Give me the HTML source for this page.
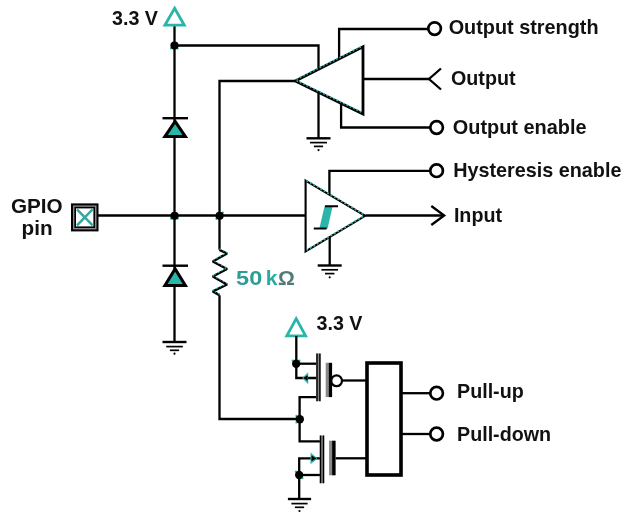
<!DOCTYPE html>
<html><head><meta charset="utf-8"><style>
html,body{margin:0;padding:0;background:#fff;}
svg{display:block;}
#w{will-change:transform;width:640px;height:516px;}
text{font-family:"Liberation Sans",sans-serif;font-weight:bold;font-size:19.7px;fill:#111;}
</style></head><body><div id="w">
<svg width="640" height="516" viewBox="0 0 640 516">
<rect width="640" height="516" fill="#fff"/>
<g fill="none" stroke="#000" stroke-width="2.3" stroke-linecap="butt" stroke-linejoin="miter">
  <!-- left vertical rail through diodes -->
  <path d="M174.5 26 V342"/>
  <!-- 3.3V top horizontal to output buffer ground -->
  <path d="M174.5 45.5 H318.5 V138"/>
  <!-- x=219.5 vertical from output buffer input to resistor -->
  <path d="M295 81 H219.5 V249.8"/>
  <path d="M219.5 295.2 V419 H300"/>
  <!-- main horizontal -->
  <path d="M98 215.5 H305.5"/>
  <!-- output strength -->
  <path d="M339.1 60 V29 H429"/>
  <!-- output enable -->
  <path d="M341.1 100 V127.5 H431"/>
  <!-- output -->
  <path d="M363 79 H429"/>
  <path d="M441 68.5 L429 79 L441 89.5"/>
  <!-- hysteresis enable -->
  <path d="M329.4 200 V170.8 H431"/>
  <!-- input -->
  <path d="M365.5 215.5 H444"/>
  <path d="M431.3 206 L444.2 215.5 L431.3 225"/>
  <!-- input triangle ground -->
  <path d="M329.7 235 V265.5"/>
</g>
<!-- grounds -->
<g stroke="#000" fill="none">
  <g id="gnd1" transform="translate(174.5,342)">
    <path d="M-12 0 H12" stroke-width="2.4"/>
    <path d="M-8.3 4.6 H8.3" stroke-width="1.7"/>
    <path d="M-4.6 8.3 H4.6" stroke-width="1.7"/>
    <circle cx="0" cy="11.7" r="1.1" fill="#000" stroke="none"/>
  </g>
  <g transform="translate(318.5,138.3)">
    <path d="M-12 0 H12" stroke-width="2.4"/>
    <path d="M-8.5 4.3 H8.5" stroke-width="1.7"/>
    <path d="M-4.6 8.1 H4.6" stroke-width="1.7"/>
    <circle cx="0" cy="11.8" r="1.1" fill="#000" stroke="none"/>
  </g>
  <g transform="translate(329.7,265.5)">
    <path d="M-12 0 H12" stroke-width="2.4"/>
    <path d="M-8.3 4.3 H8.3" stroke-width="1.7"/>
    <path d="M-4.7 8.1 H4.7" stroke-width="1.7"/>
    <circle cx="0" cy="11.8" r="1.1" fill="#000" stroke="none"/>
  </g>
  <g transform="translate(299.5,499)">
    <path d="M-11.6 0 H11.6" stroke-width="2.4"/>
    <path d="M-8.1 4.6 H8.1" stroke-width="1.7"/>
    <path d="M-4.6 8.3 H4.6" stroke-width="1.7"/>
    <circle cx="0" cy="12" r="1.1" fill="#000" stroke="none"/>
  </g>
</g>
<!-- output buffer triangle -->
<path d="M295.3 81 L363 46.8 L363 114 Z" fill="#fff" stroke="#000" stroke-width="2.8" stroke-linejoin="miter"/>
<path d="M296.5 80.4 L361.8 47.5 M296.5 81.6 L361.8 113.4" fill="none" stroke="#2ab5ab" stroke-width="1.5" stroke-dasharray="1.8 1.9" transform="translate(0,-1)"/>
<!-- input triangle -->
<path d="M305.6 180.6 L365.2 215.8 L305.6 251.4 Z" fill="#fff" stroke="#000" stroke-width="2.1"/>
<path d="M306.5 181.1 L364.3 215.3 M306.5 250.9 L364.3 216.3" fill="none" stroke="#2ab5ab" stroke-width="1.6" stroke-dasharray="1.9 2.1" transform="translate(0,-0.6)"/>
<!-- hysteresis symbol -->
<path d="M324.5 206.3 L332.6 206.3 L327.6 228.4 L319.4 228.4 Z" fill="#2ab5ab"/>
<path d="M325 206.3 H338 M313.8 228.5 H326.6" stroke="#000" stroke-width="2" fill="none"/>
<!-- terminals (circles) -->
<g fill="#fff" stroke="#000" stroke-width="2.7">
  <circle cx="434.6" cy="28.6" r="6.3"/>
  <circle cx="436.6" cy="127.5" r="6.3"/>
  <circle cx="436.6" cy="170.7" r="6.3"/>
  <circle cx="436.6" cy="393.2" r="6.3"/>
  <circle cx="436.6" cy="434" r="6.3"/>
</g>
<!-- diodes -->
<g>
  <path d="M162.5 118.2 H188" stroke="#000" stroke-width="2.4"/>
  <path d="M175.1 121.4 L185.4 136.6 L164.9 136.6 Z" fill="#2ab5ab" stroke="#000" stroke-width="3" stroke-linejoin="miter" stroke-miterlimit="10"/>
  <path d="M162.5 265.7 H188" stroke="#000" stroke-width="2.4"/>
  <path d="M175.1 268.9 L185.4 285.4 L164.9 285.4 Z" fill="#2ab5ab" stroke="#000" stroke-width="3" stroke-linejoin="miter" stroke-miterlimit="10"/>
</g>
<!-- dot teal fringes -->
<g fill="#2ab5ab">
  <circle cx="171.2" cy="218.4" r="1.3"/><circle cx="177.8" cy="218.6" r="1.1"/>
  <circle cx="222.8" cy="212.6" r="1.2"/><circle cx="216.4" cy="218.8" r="1.1"/>
  <circle cx="171.2" cy="48.2" r="1.2"/><circle cx="177.6" cy="48.6" r="1.1"/>
  <circle cx="292.8" cy="360.8" r="1.2"/><circle cx="299.4" cy="360.6" r="1.1"/>
  <circle cx="296.6" cy="416" r="1.2"/><circle cx="296.4" cy="422.4" r="1.1"/>
  <circle cx="296" cy="471.8" r="1.2"/><circle cx="302.4" cy="478.2" r="1.1"/>
</g>
<!-- dots -->
<g fill="#000">
  <circle cx="174.5" cy="45.5" r="4.1"/>
  <circle cx="174.6" cy="215.8" r="4.1"/>
  <circle cx="219.6" cy="215.8" r="4.1"/>
  <circle cx="296.2" cy="363.7" r="4.2"/>
  <circle cx="299.8" cy="419.2" r="4.2"/>
  <circle cx="299.2" cy="475" r="4.2"/>
</g>
<!-- resistor -->
<path d="M219.4 249.8 L227 253.5 L212.8 261.5 L227 269 L212.8 276.5 L227 284.5 L212.8 291.4 L219.4 295.2" fill="none" stroke="#000" stroke-width="2.5" stroke-linejoin="bevel"/>
<path d="M219.4 249.8 L227 253.5 L212.8 261.5 L227 269 L212.8 276.5 L227 284.5 L212.8 291.4 L219.4 295.2" fill="none" stroke="#2ab5ab" stroke-width="1.1" stroke-dasharray="1.6 2.2" transform="translate(0,-1)"/>
<!-- 3.3V supply triangles -->
<g fill="none" stroke="#2ab5ab" stroke-width="2.8" stroke-linejoin="miter">
  <path d="M174.6 8.2 L184.3 25.2 L164.9 25.2 Z"/>
  <path d="M296.2 318.7 L305.6 335.9 L286.8 335.9 Z"/>
</g>
<!-- GPIO pin box -->
<rect x="72" y="204.4" width="25.5" height="26" fill="#888" stroke="#000" stroke-width="2"/>
<rect x="75.2" y="207.6" width="19" height="19.6" fill="#fff" stroke="#000" stroke-width="1.6"/>
<path d="M77 209.4 L92.6 225.4 M92.6 209.4 L77 225.4" stroke="#35a9a1" stroke-width="2.5"/>
<!-- lower supply & MOSFETs -->
<g fill="none" stroke="#000" stroke-width="2.3">
  <path d="M296.3 336 V378 H316.4"/>
  <path d="M296.3 363.7 H316.4"/>
  <path d="M316.4 397.1 H299.6 V441.4 H320"/>
  <path d="M320 458.4 H299.2 V499"/>
  <path d="M299.2 475 H320"/>
  <path d="M342 380.5 H367"/>
  <path d="M335.6 458.3 H367"/>
  <path d="M401 393.2 H431"/>
  <path d="M401 434 H431"/>
</g>
<!-- PMOS channel -->
<rect x="316.3" y="353.5" width="4.2" height="47.7" fill="#888"/>
<path d="M317 353.5 V401.2 M319.9 353.5 V401.2" stroke="#000" stroke-width="1.4"/>
<circle cx="336.6" cy="380.8" r="5.4" fill="#fff" stroke="#000" stroke-width="2.2"/>
<rect x="325.7" y="362.8" width="3" height="34.3" fill="#888"/>
<rect x="328.7" y="362.8" width="3.4" height="34.3" fill="#000"/>
<!-- PMOS body arrow (pointing left) -->
<path d="M302.2 378 L308.2 372.2 L308.2 384.3 Z" fill="#2ab5ab"/>
<path d="M303.2 378 L307.6 375.2 L307.6 380.8 Z" fill="#000"/>
<!-- NMOS channel -->
<rect x="319.8" y="435.5" width="4.4" height="47.7" fill="#888"/>
<path d="M320.5 435.5 V483.2 M323.5 435.5 V483.2" stroke="#000" stroke-width="1.4"/>
<rect x="329.1" y="440.7" width="3" height="34.6" fill="#888"/>
<rect x="332.1" y="440.7" width="3.5" height="34.6" fill="#000"/>
<!-- NMOS body arrow (pointing right) -->
<path d="M317.5 458.4 L310.5 452.5 L310.5 464.3 Z" fill="#2ab5ab"/>
<path d="M316.5 458.4 L311.5 455.5 L311.5 461.3 Z" fill="#000"/>
<!-- logic box -->
<rect x="367" y="363" width="34" height="112" fill="#fff" stroke="#000" stroke-width="3.6"/>
<!-- text -->
<text x="112" y="25.3">3.3 V</text>
<text x="10.9" y="212.5" style="font-size:20.7px">GPIO</text>
<text x="21.6" y="234.8" style="font-size:20.7px">pin</text>
<text x="448.7" y="34.4" style="font-size:19.85px">Output strength</text>
<text x="451" y="85.3">Output</text>
<text x="452.8" y="133.7" style="font-size:19.9px">Output enable</text>
<text x="453.2" y="177.2" style="font-size:19.8px">Hysteresis enable</text>
<text x="453.9" y="221.9">Input</text>
<text transform="translate(236.1,285.2) scale(1.12,1)" style="font-size:21px;fill:#2f9c95">50</text>
<text x="265.8" y="285.2" style="font-size:21px;fill:#2aaaa1">k</text>
<text x="278" y="285.2" style="font-size:21px;fill:#527b78">Ω</text>
<text x="316.5" y="330.1">3.3 V</text>
<text x="457" y="397.5">Pull-up</text>
<text x="457" y="440.6">Pull-down</text>
</svg></div>
</body></html>
